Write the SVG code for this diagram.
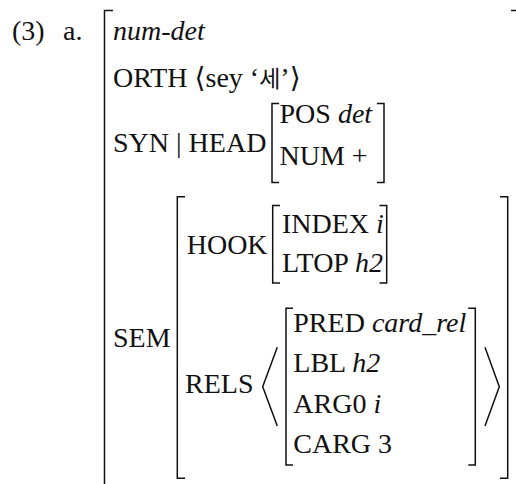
<svg xmlns="http://www.w3.org/2000/svg" width="516" height="484" viewBox="0 0 516 484">
<style>
text{font-family:"Liberation Serif","DejaVu Serif","Noto Sans CJK KR",serif;font-size:28px;fill:#111}
.it{font-style:italic}
.br{fill:none;stroke:#111;stroke-width:1.5;stroke-linecap:butt}
.kr{font-family:"Noto Sans CJK KR",sans-serif;font-size:23px}
</style>
<rect width="516" height="484" fill="#fff"/>
<g id="label">
<text x="12" y="40">(3)</text>
<text x="63" y="40">a.</text>
</g>
<g id="outer-avm">
<path class="br" d="M113,10.5 H104.5 V486"/>
<path class="br" d="M511,10.5 H518"/>
<text x="113" y="40" class="it">num-det</text>
<text x="113" y="87">ORTH <tspan font-family="DejaVu Serif">⟨</tspan>sey ‘<tspan class="kr">세</tspan>’<tspan font-family="DejaVu Serif">⟩</tspan></text>
</g>
<g id="syn-head">
<text x="113" y="152">SYN | HEAD</text>
<path class="br" d="M279,103.5 H272 V182.5 H279"/>
<path class="br" d="M377,103.5 H384 V182.5 H377"/>
<text x="279.5" y="123">POS <tspan class="it">det</tspan></text>
<text x="279.5" y="165">NUM +</text>
</g>
<g id="sem">
<text x="113" y="346.5">SEM</text>
<path class="br" d="M185,196.7 H177.3 V478.3 H185"/>
<path class="br" d="M500,196.7 H507.7 V478.3 H500"/>
</g>
<g id="hook">
<text x="186.7" y="254">HOOK</text>
<path class="br" d="M280,205.5 H272.7 V283 H280"/>
<path class="br" d="M379.5,205.5 H386.7 V283 H379.5"/>
<text x="282" y="233">INDEX <tspan class="it">i</tspan></text>
<text x="282" y="272">LTOP <tspan class="it">h2</tspan></text>
</g>
<g id="rels">
<text x="185" y="393">RELS</text>
<path class="br" d="M277.3,347.3 L262.7,386.7 L277.3,426"/>
<path class="br" d="M485,347.3 L499.3,386.7 L485,426"/>
<path class="br" d="M293,308.3 H286 V465 H293"/>
<path class="br" d="M468.3,308.3 H475.3 V465 H468.3"/>
<text x="293.3" y="331.5">PRED <tspan class="it">card_rel</tspan></text>
<text x="293.3" y="372">LBL <tspan class="it">h2</tspan></text>
<text x="293.3" y="412.5">ARG0 <tspan class="it">i</tspan></text>
<text x="293.3" y="453">CARG 3</text>
</g>
</svg>
